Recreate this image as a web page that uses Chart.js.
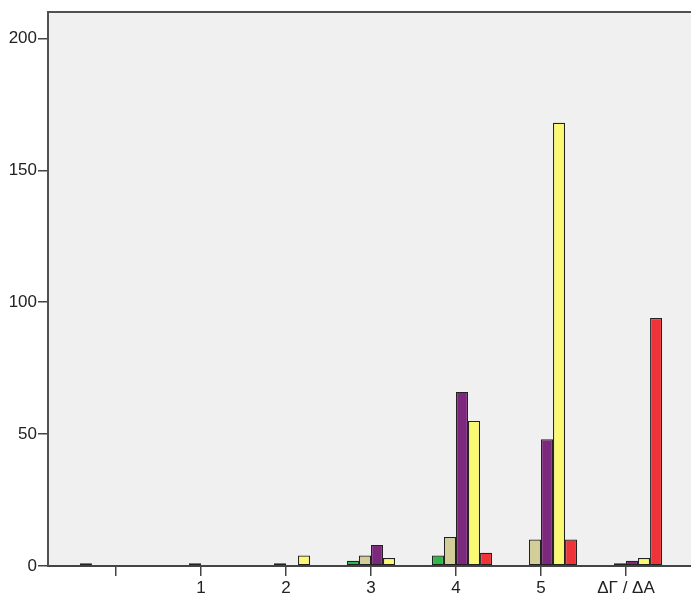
<!DOCTYPE html>
<html>
<head>
<meta charset="utf-8">
<script src="https://cdn.jsdelivr.net/npm/chart.js@4.4.1/dist/chart.umd.min.js"></script>
<style>
    html, body { margin: 0; padding: 0; background: #fff; overflow: hidden; }
    #wrap { width: 694px; height: 597px; }
</style>
</head>
<body>
<div id="wrap"><canvas id="mycanvas"></canvas></div>
<script>
// categories on the x axis (first one has no label)
var categories = ['', '1', '2', '3', '4', '5', 'ΔΓ / ΔΑ'];
var yTicks = [0, 50, 100, 150, 200];

// counts per series, null = no bar
var s1 = [1, null, null, null, null, null, null];
var s2 = [null, null, null, 2, 4, null, null];
var s3 = [null, 1, 1, 4, 11, 10, 1];
var s4 = [null, null, null, 8, 66, 48, 2];
var s5 = [null, null, 4, 3, 55, 168, 3];
var s6 = [null, null, null, null, 5, 10, 94];

var seriesNames = ['1', '2', '3', '4', '5', '6'];
var colors = ['#3E58AC', '#2EB848', '#D3CE97', '#7C287D', '#FBF873', '#EF3338'];

function toPoints(arr) {
    var pts = [];
    for (var i in arr) {
        if (arr[i] !== null) pts.push({ x: Number(i), y: arr[i] });
    }
    return pts;
}

var allSeries = [s1, s2, s3, s4, s5, s6];
var datasets = [];
for (var k = 0; k < allSeries.length; k++) {
    datasets.push({
        label: seriesNames[k],
        data: toPoints(allSeries[k]),
        backgroundColor: colors[k],
        borderColor: '#222',
        borderWidth: 1.2,
        borderSkipped: false,
        categoryPercentage: 0.849,
        barPercentage: 1
    });
}

// grey plot background and top frame line
var frame = {
    id: 'frame',
    beforeDraw: function (chart) {
        var a = chart.chartArea, c = chart.ctx;
        c.save();
        c.fillStyle = '#F0F0F0';
        c.fillRect(a.left, a.top, a.right - a.left, a.bottom - a.top);
        c.strokeStyle = '#505050';
        c.lineWidth = 2;
        c.beginPath();
        c.moveTo(a.left, a.top);
        c.lineTo(a.right + 5, a.top);
        c.stroke();
        c.restore();
    }
};

var tickFont = { family: 'Liberation Sans, Arial, sans-serif', size: 17 };

var ctx = document.getElementById('mycanvas');
var barGraph = new Chart(ctx, {
    type: 'bar',
    data: { datasets: datasets },
    plugins: [frame],
    options: {
        responsive: true,
        maintainAspectRatio: false,
        animation: false,
        layout: { padding: { top: 12, left: 0, right: 0, bottom: 0 } },
        plugins: { legend: { display: false }, tooltip: { enabled: false } },
        scales: {
            x: {
                type: 'linear',
                offset: false,
                min: -0.8,
                max: 6.8,
                afterBuildTicks: function (scale) {
                    scale.ticks = categories.map(function (c, i) { return { value: i }; });
                },
                afterFit: function (scale) { scale.height = 31; },
                grid: { offset: false, drawOnChartArea: false, drawTicks: true, tickLength: 10, color: '#444', lineWidth: 1.5 },
                border: { display: true, color: '#444', width: 2 },
                ticks: {
                    autoSkip: false,
                    maxRotation: 0,
                    padding: 2,
                    color: '#222',
                    font: tickFont,
                    callback: function (v) { return categories[v]; }
                }
            },
            y: {
                min: 0,
                max: 210,
                afterBuildTicks: function (scale) {
                    scale.ticks = yTicks.map(function (t) { return { value: t }; });
                },
                afterFit: function (scale) { scale.width = 48; },
                grid: { drawOnChartArea: false, drawTicks: true, tickLength: 10, color: '#444', lineWidth: 1.5 },
                border: { display: true, color: '#505050', width: 2 },
                ticks: {
                    padding: 1,
                    color: '#222',
                    font: tickFont
                }
            }
        }
    }
});
</script>
</body>
</html>
